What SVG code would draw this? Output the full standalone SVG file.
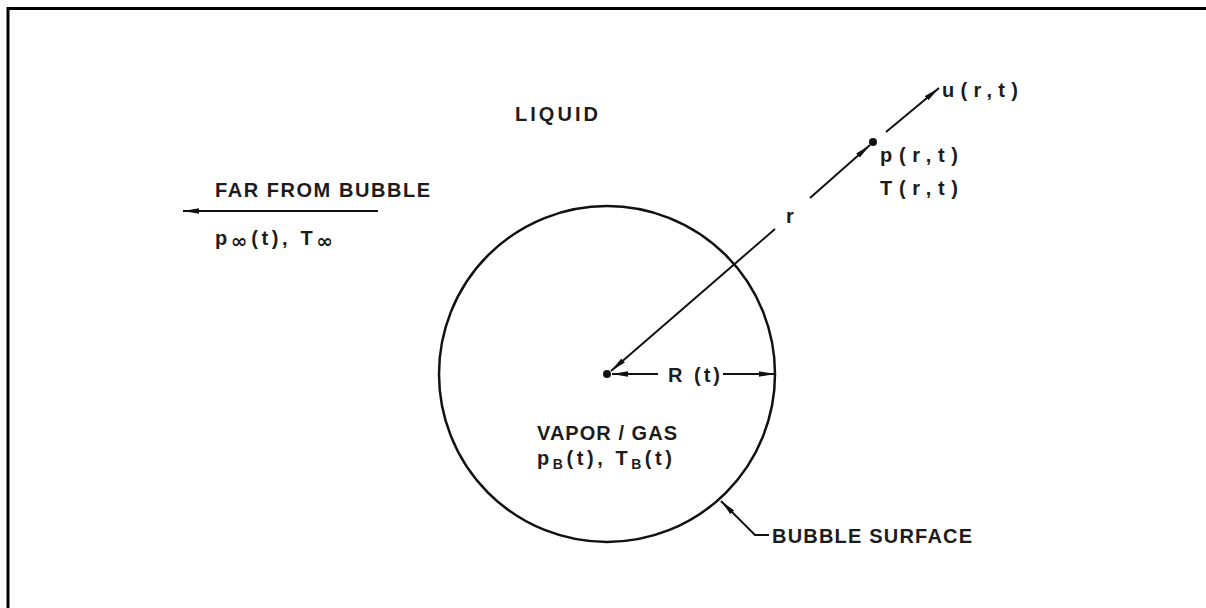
<svg xmlns="http://www.w3.org/2000/svg" width="1206" height="608" viewBox="0 0 1206 608">
<style>
text{font-family:"Liberation Sans",Arial,sans-serif;font-weight:bold;font-size:20px;fill:#1c1c1c}
.ln{stroke:#111;stroke-width:2;fill:none}
.sub{font-size:20px;font-family:"DejaVu Sans",sans-serif}
.subb{font-size:14px}
</style>
<defs>
<marker id="ah" viewBox="0 0 16 6" refX="16" refY="3" markerWidth="16" markerHeight="6" markerUnits="userSpaceOnUse" orient="auto">
<path d="M0,0.3 L16,3 L0,5.7 z" fill="#111"/>
</marker>
</defs>
<rect width="1206" height="608" fill="#fff"/>
<path d="M8,608 L8,8.5 L1206,8.5" fill="none" stroke="#000" stroke-width="3"/>
<g id="bubble">
<circle cx="607" cy="374" r="168" fill="none" stroke="#111" stroke-width="2.5"/>
<circle cx="607" cy="374" r="4" fill="#111"/>
</g>
<g id="point">
<circle cx="873" cy="142" r="4" fill="#111"/>
</g>
<g id="connectors">
<line class="ln" x1="775" y1="229" x2="611" y2="371" marker-end="url(#ah)"/>
<line class="ln" x1="810" y1="198" x2="870" y2="145" marker-end="url(#ah)"/>
<line class="ln" x1="886" y1="132" x2="939" y2="88" marker-end="url(#ah)"/>
<line class="ln" x1="658" y1="374" x2="612" y2="374" marker-end="url(#ah)"/>
<line class="ln" x1="723" y1="374" x2="775" y2="374" marker-end="url(#ah)"/>
<line class="ln" x1="378" y1="211" x2="183" y2="211" marker-end="url(#ah)"/>
<path class="ln" d="M769,535 L755,535 L721,501" marker-end="url(#ah)"/>
</g>
<g id="labels">
<text x="515" y="121" font-size="21" textLength="83" lengthAdjust="spacing">LIQUID</text>
<text x="215" y="197" textLength="215" lengthAdjust="spacing">FAR FROM BUBBLE</text>
<text x="215" y="245" textLength="118" lengthAdjust="spacing">p<tspan class="sub" dy="3">∞</tspan><tspan dy="-3">(t), T</tspan><tspan class="sub" dy="3">∞</tspan></text>
<text x="942" y="97" textLength="76" lengthAdjust="spacing">u(r,t)</text>
<text x="880" y="162" textLength="78" lengthAdjust="spacing">p(r,t)</text>
<text x="880" y="195" textLength="78" lengthAdjust="spacing">T(r,t)</text>
<text x="786" y="223">r</text>
<text x="668" y="382" textLength="52" lengthAdjust="spacing">R (t)</text>
<text x="537" y="440" textLength="140" lengthAdjust="spacing">VAPOR / GAS</text>
<text x="537" y="465" textLength="135" lengthAdjust="spacing">p<tspan class="subb" dy="4">B</tspan><tspan dy="-4">(t), T</tspan><tspan class="subb" dy="4">B</tspan><tspan dy="-4">(t)</tspan></text>
<text x="772" y="543" textLength="200" lengthAdjust="spacing">BUBBLE SURFACE</text>
</g>
</svg>
